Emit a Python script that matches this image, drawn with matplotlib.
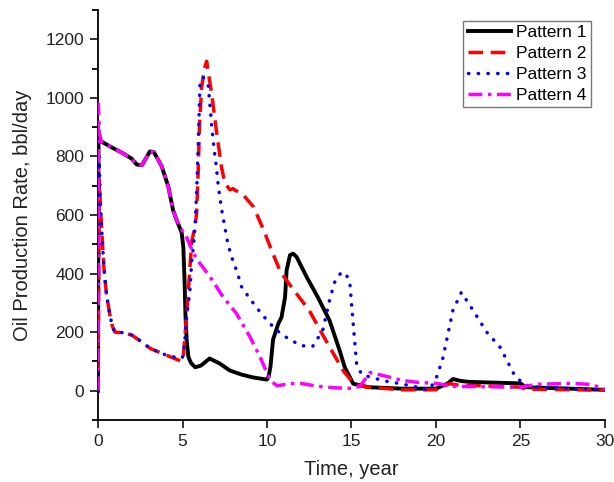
import matplotlib
matplotlib.use("Agg")
import matplotlib.pyplot as plt
from matplotlib.ticker import MultipleLocator

plt.rcParams['font.family'] = ['Liberation Sans', 'DejaVu Sans']

# ---- data ----
p1_x = [0, 0.03, 0.2, 0.71, 1.5, 2.0, 2.3, 2.6, 2.85, 3.07, 3.3, 3.55, 3.77, 4.16, 4.44, 4.65, 4.95, 5.05, 5.12, 5.18,
        5.25, 5.35, 5.5, 5.75, 6.1, 6.6, 7.2, 7.8, 8.5, 9.2, 10.0, 10.1, 10.2, 10.36, 10.67, 10.86, 11.07,
        11.16, 11.36, 11.55, 11.75, 12.35, 13.0, 13.7, 14.3, 14.6, 15.1, 16, 18, 20, 20.3, 20.7, 21.0,
        21.5, 22, 25, 25.3, 30]
p1_y = [0, 860, 851, 834, 810, 792, 772, 770, 795, 817, 815, 790, 766, 697, 617, 583, 540, 490, 380, 250,
        170, 115, 95, 80, 86, 110, 93, 69, 55, 45, 38, 50, 80, 175, 229, 251, 320,
        411, 463, 468, 457, 388, 320, 240, 137, 80, 24, 12, 7, 7, 15, 25, 40,
        33, 30, 25, 12, 3]

p2_x = [0, 0.08, 0.15, 0.25, 0.35, 0.5, 0.7, 0.85, 1.0, 1.5, 2.0, 2.5, 3.1, 4.1, 4.95, 5.05, 5.15,
        5.3, 5.45, 5.55, 5.74, 5.84, 5.93, 6.0, 6.13, 6.3, 6.43, 6.6, 6.72, 7.0, 7.3, 7.5, 7.8, 8.0,
        8.1, 8.3, 8.6, 9.2, 9.8, 10.2, 10.8, 11.5, 12.5, 13.5, 14.5, 15.2, 16, 18, 20, 20.8, 21.2,
        25, 25.3, 30]
p2_y = [0, 720, 620, 520, 420, 330, 260, 220, 200, 198, 190, 170, 144, 120, 100, 120, 190,
        300, 430, 510, 560, 610, 750, 900, 1035, 1100, 1125, 1060, 1017, 891, 766, 710, 686, 690,
        685, 679, 668, 628, 549, 490, 405, 350, 274, 170, 69, 20, 12, 3, 3, 24, 20,
        12, 5, 2]

p3_x = [0, 0.06, 0.15, 0.25, 0.35, 0.5, 0.7, 0.85, 1.0, 1.5, 2.0, 2.5, 3.1, 4.1, 4.95, 5.05, 5.15,
        5.25, 5.44, 5.54, 5.64, 5.74, 5.84, 5.94, 6.04, 6.23, 6.53, 6.63, 6.73, 6.86, 7.0, 7.12, 7.3,
        7.5, 7.7, 8.0, 8.2, 8.5, 9.0, 9.6, 10.1, 10.6, 11.2, 12.0, 12.7, 13.3, 13.7, 14.0, 14.4, 14.7,
        14.9, 15.0, 15.2, 15.3, 15.6, 15.9, 16.9, 17.9, 18.9, 19.6, 20.0, 20.4, 21.0, 21.5, 22.2,
        23.0, 23.8, 24.6, 25.2, 26, 30]
p3_y = [0, 800, 620, 520, 420, 330, 260, 220, 200, 198, 190, 170, 144, 120, 110, 120, 182,
        257, 340, 440, 490, 560, 680, 857, 1057, 1070, 1040, 971, 903, 830, 766, 697, 624,
        560, 497, 440, 411, 354, 313, 268, 234, 205, 180, 154, 151, 206, 309, 370, 405, 395,
        370, 298, 161, 93, 55, 50, 34, 24, 12, 3, 40, 110, 274, 336, 274,
        200, 148, 58, 20, 12, 3]

p4_x = [0, 0.02, 0.08, 0.2, 0.71, 1.5, 2.0, 2.3, 2.6, 2.85, 3.07, 3.3, 3.55, 3.77, 4.16, 4.44, 4.65, 5.0, 5.15,
        5.64, 6.04, 6.63, 7.4, 8.2, 9.0, 9.6, 10.2, 10.6, 11.4, 12, 13, 14, 15, 15.5, 16.1, 17, 18,
        19, 20, 20.5, 21, 25, 26, 28, 29, 29.5, 30]
p4_y = [0, 980, 880, 851, 834, 810, 792, 772, 770, 795, 817, 815, 790, 766, 697, 617, 583, 545, 537,
        469, 434, 389, 320, 263, 183, 114, 34, 17, 24, 25, 15, 10, 8, 15, 62, 50, 35,
        28, 25, 20, 15, 12, 22, 25, 22, 15, 5]

labels = ["Pattern 1", "Pattern 2", "Pattern 3", "Pattern 4"]
x_ticks = [0, 5, 10, 15, 20, 25, 30]
y_ticks = [0, 200, 400, 600, 800, 1000, 1200]

# ---- figure ----
fig = plt.figure(figsize=(6.14, 4.82), dpi=100)
ax = fig.add_axes([98 / 614, 1 - 420 / 482, (605 - 98) / 614, 410 / 482])

lw = 2.5
ax.plot(p1_x, p1_y, color='black', lw=lw + 0.3, ls='-', label=labels[0], zorder=2)
ax.plot(p2_x, p2_y, color='#ff0000', lw=lw, ls=(0, (4.2, 2.2)), label=labels[1], zorder=3)
ax.plot(p3_x, p3_y, color='#0000ff', lw=lw, ls=(0, (0.1, 2.7)), dash_capstyle='round',
        label=labels[2], zorder=4)
ax.plot(p4_x, p4_y, color='#ff00ff', lw=lw, ls=(0, (4, 1.6, 1, 1.6)), label=labels[3], zorder=5)

ax.set_xlim(0, 30)
ax.set_ylim(-100, 1300)
ax.set_xticks(x_ticks)
ax.set_yticks(y_ticks)
ax.yaxis.set_minor_locator(MultipleLocator(100))

for s in ['top', 'right']:
    ax.spines[s].set_visible(False)
for s in ['left', 'bottom']:
    ax.spines[s].set_linewidth(1.3)

ax.tick_params(axis='both', which='major', direction='out', length=6, width=1.3,
               labelsize=12.5, pad=4, colors='#222222')
ax.tick_params(axis='y', which='minor', direction='out', length=4, width=1.3)

ax.set_xlabel("Time, year", fontsize=14.5, color='#222222', labelpad=8)
ax.set_ylabel("Oil Production Rate, bbl/day", fontsize=14.5, color='#222222', labelpad=10)

leg = ax.legend(loc='upper right', bbox_to_anchor=(591 / 614, 1 - 21 / 482),
                bbox_transform=fig.transFigure, fontsize=12.5, frameon=True, fancybox=False,
                borderaxespad=0, handlelength=2.5, handletextpad=0.3, labelspacing=0.32,
                borderpad=0.25)
leg.get_frame().set_edgecolor('#555555')
leg.get_frame().set_linewidth(1.0)

fig.savefig("out.png", dpi=100)
